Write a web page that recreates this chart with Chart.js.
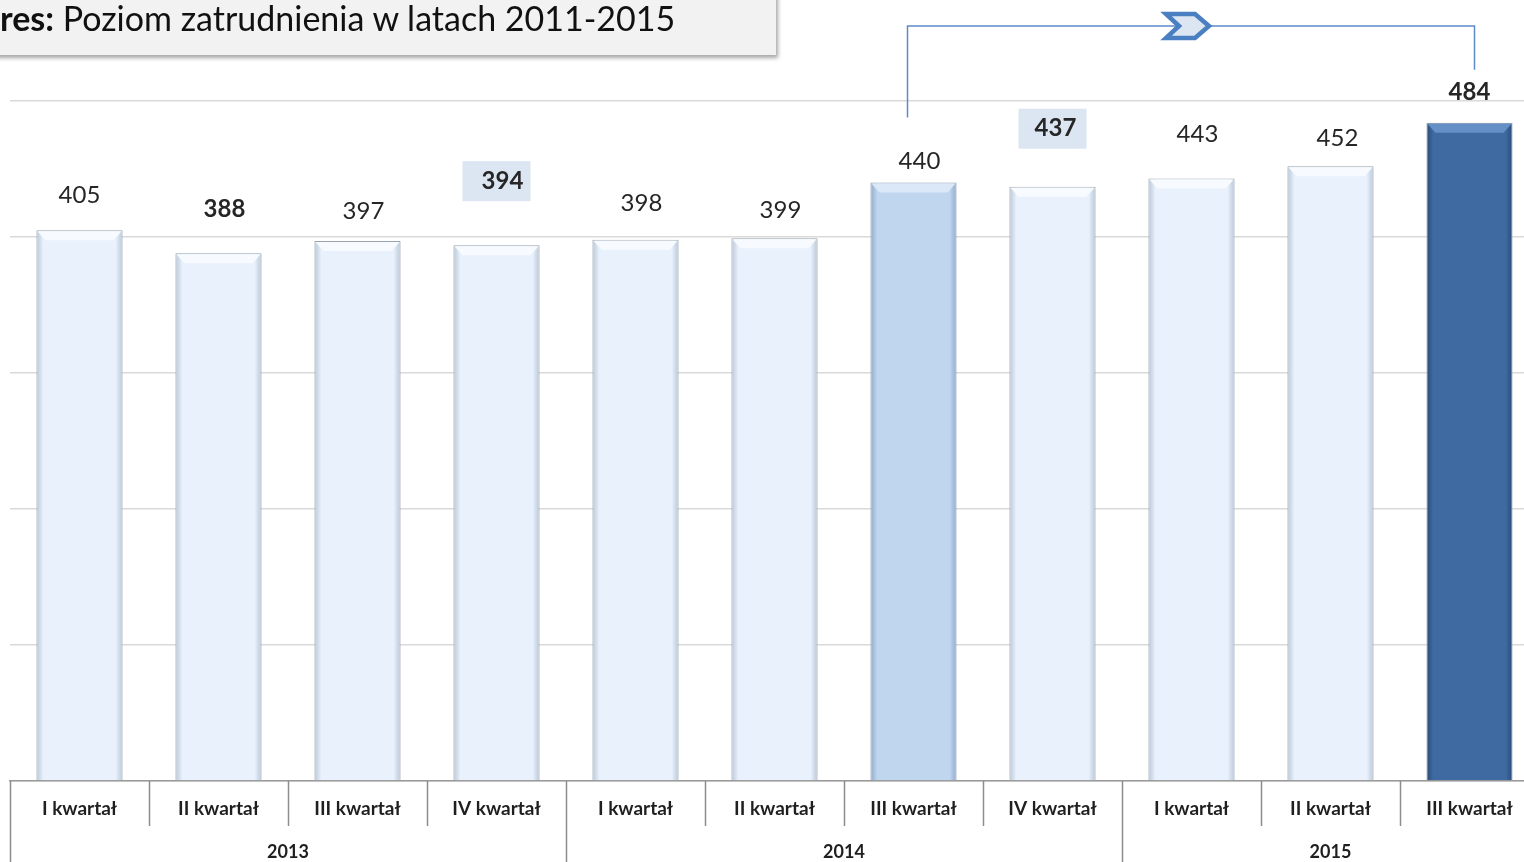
<!DOCTYPE html>
<html>
<head>
<meta charset="utf-8">
<script src="https://cdn.jsdelivr.net/npm/chart.js@4.4.0/dist/chart.umd.min.js"></script>
<style>
  body { margin: 0; overflow: hidden; background: #fff; }
  #wrap { position: absolute; left: 0; top: 0; width: 1545px; height: 862px; }
  #tytul {
    position: absolute; left: -20px; top: -10px; width: 796px; height: 65px;
    background: #f2f2f2; box-shadow: 2px 3px 4px rgba(0,0,0,0.35);
    font-family: Lato, sans-serif; font-size: 34px; color: #111;
    line-height: 38px; padding-top: 9px; padding-left: 20px; box-sizing: border-box;
    z-index: 2; white-space: nowrap;
  }
</style>
</head>
<body>
<div id="tytul"><b>res:</b> Poziom zatrudnienia w latach 2011-2015</div>
<div id="wrap"><canvas id="myChart"></canvas></div>
<script>
// Dane
const kwartaly = ['I kwartał', 'II kwartał', 'III kwartał', 'IV kwartał',
                  'I kwartał', 'II kwartał', 'III kwartał', 'IV kwartał',
                  'I kwartał', 'II kwartał', 'III kwartał'];
const lata = ['2013', '2014', '2015'];
const kwartalowWRoku = [4, 4, 3];
const zatrudnienie = [405, 388, 397, 394, 398, 399, 440, 437, 443, 452, 484];
const osY = [0, 100, 200, 300, 400, 500];

// Wyglad etykiet (nie dane)
const pogrubione = [false, true, false, true, false, false, false, true, false, false, true];
const ramki      = [false, false, false, true, false, false, false, true, false, false, false];
const odstep     = [35, 44, 30, 64, 36, 28, 21, 58, 44, 28, 30];
const przesun    = [0, 6, 6, 6, 6, 6, 6, 3, 6, 7, 0];

// Kolory slupkow: [krawedz, srodek, gora]
const jasny = ['#b9c7d6', '#e8f1fc', '#f7fbff'];
const sredni = ['#90aacb', '#c0d6ef', '#dbe8f7'];
const ciemny = ['#294b78', '#3e6aa1', '#6590c6'];
const kolory = zatrudnienie.map((v, i) => i === 6 ? sredni : (i === 10 ? ciemny : jasny));

function gradient(chart, i) {
  const xs = chart.scales.x;
  if (!chart.chartArea || !xs) return kolory[i][1];
  const x = xs.getPixelForValue(i);
  const w = xs.width / kwartaly.length * 0.62;
  const g = chart.ctx.createLinearGradient(x - w / 2, 0, x + w / 2, 0);
  g.addColorStop(0, kolory[i][0]);
  g.addColorStop(0.08, kolory[i][1]);
  g.addColorStop(0.92, kolory[i][1]);
  g.addColorStop(1, kolory[i][0]);
  return g;
}

// Fazowanie gory slupkow
const fazowanie = {
  id: 'fazowanie',
  afterDatasetsDraw(chart) {
    const ctx = chart.ctx;
    chart.getDatasetMeta(0).data.forEach((bar, i) => {
      const l = bar.x - bar.width / 2, r = bar.x + bar.width / 2, t = bar.y;
      ctx.save();
      ctx.beginPath();
      ctx.moveTo(l + 1, t + 1);
      ctx.lineTo(r - 1, t + 1);
      ctx.lineTo(r - 9, t + 10);
      ctx.lineTo(l + 9, t + 10);
      ctx.closePath();
      ctx.fillStyle = kolory[i][2];
      ctx.fill();
      ctx.restore();
    });
  }
};

// Etykiety wartosci
const etykiety = {
  id: 'etykiety',
  afterDatasetsDraw(chart) {
    const ctx = chart.ctx;
    chart.getDatasetMeta(0).data.forEach((bar, i) => {
      const y = bar.y - odstep[i];
      ctx.save();
      if (ramki[i]) {
        ctx.fillStyle = '#dce6f2';
        ctx.fillRect(bar.x - 34, y - 20, 68, 40);
      }
      ctx.font = (pogrubione[i] ? 'bold ' : '') + '24px Lato';
      ctx.fillStyle = '#262626';
      ctx.textAlign = 'center';
      ctx.textBaseline = 'middle';
      ctx.fillText(String(zatrudnienie[i]), bar.x + przesun[i], y);
      ctx.restore();
    });
  }
};

// Os X w formie tabeli
const tabela = {
  id: 'tabela',
  afterDraw(chart) {
    const ctx = chart.ctx;
    const xs = chart.scales.x;
    const dol = chart.chartArea.bottom;
    const krok = xs.width / kwartaly.length;
    const granice = [0];
    kwartalowWRoku.forEach(n => granice.push(granice[granice.length - 1] + n));
    ctx.save();
    ctx.strokeStyle = '#8c8c8c';
    ctx.lineWidth = 1.5;
    for (let i = 0; i <= kwartaly.length; i++) {
      const x = Math.round(xs.getPixelForValue(i) - krok / 2) + 0.5;
      ctx.beginPath();
      ctx.moveTo(x, dol);
      ctx.lineTo(x, granice.includes(i) ? chart.height : dol + 45);
      ctx.stroke();
    }
    ctx.fillStyle = '#1f1f1f';
    ctx.textAlign = 'center';
    ctx.textBaseline = 'middle';
    ctx.font = 'bold 19px Lato';
    kwartaly.forEach((k, i) => ctx.fillText(k, xs.getPixelForValue(i), dol + 28));
    ctx.font = 'bold 18px Lato';
    lata.forEach((r, j) => {
      const a = granice[j], b = granice[j + 1] - 1;
      const x = (xs.getPixelForValue(a) + xs.getPixelForValue(b)) / 2;
      ctx.fillText(r, x, dol + 71);
    });
    ctx.restore();
  }
};

// Klamra ze strzalka
const klamra = {
  id: 'klamra',
  afterDraw(chart) {
    const ctx = chart.ctx;
    const data = chart.getDatasetMeta(0).data;
    const a = data[6], b = data[10];
    const x1 = a.x - 6, x2 = b.x + 5, gora = 26;
    ctx.save();
    ctx.strokeStyle = '#5b8cc8';
    ctx.lineWidth = 1.5;
    ctx.beginPath();
    ctx.moveTo(x1, a.y - 65);
    ctx.lineTo(x1, gora);
    ctx.lineTo(x2, gora);
    ctx.lineTo(x2, b.y - 53);
    ctx.stroke();
    const cx = (x1 + x2) / 2 - 4;
    ctx.beginPath();
    ctx.moveTo(cx - 21, gora - 12);
    ctx.lineTo(cx + 8, gora - 12);
    ctx.lineTo(cx + 22, gora);
    ctx.lineTo(cx + 8, gora + 12);
    ctx.lineTo(cx - 21, gora + 12);
    ctx.lineTo(cx - 8, gora);
    ctx.closePath();
    ctx.fillStyle = '#dce6f2';
    ctx.fill();
    ctx.strokeStyle = '#4a7fc1';
    ctx.lineWidth = 4.5;
    ctx.lineJoin = 'miter';
    ctx.stroke();
    ctx.restore();
  }
};

let ctx = document.getElementById('myChart');
let wykres = new Chart(ctx, {
  type: 'bar',
  data: {
    labels: kwartaly,
    datasets: [{
      data: zatrudnienie,
      backgroundColor: c => gradient(c.chart, c.dataIndex),
      borderColor: '#98a3b0',
      borderWidth: 1,
      categoryPercentage: 1,
      barPercentage: 0.62
    }]
  },
  options: {
    responsive: true,
    maintainAspectRatio: false,
    animation: false,
    layout: { padding: { left: 10, right: 6, top: 101, bottom: 81 } },
    plugins: { legend: { display: false }, tooltip: { enabled: false } },
    scales: {
      x: {
        grid: { display: false, drawTicks: false },
        ticks: { display: false },
        border: { display: true, color: '#9a9a9a', width: 1.5 }
      },
      y: {
        min: osY[0],
        max: osY[osY.length - 1],
        afterBuildTicks: s => { s.ticks = osY.map(v => ({ value: v })); },
        ticks: { display: false },
        grid: { color: '#dadada', lineWidth: 1.5, drawTicks: false },
        border: { display: false }
      }
    }
  },
  plugins: [fazowanie, etykiety, tabela, klamra]
});
</script>
</body>
</html>
